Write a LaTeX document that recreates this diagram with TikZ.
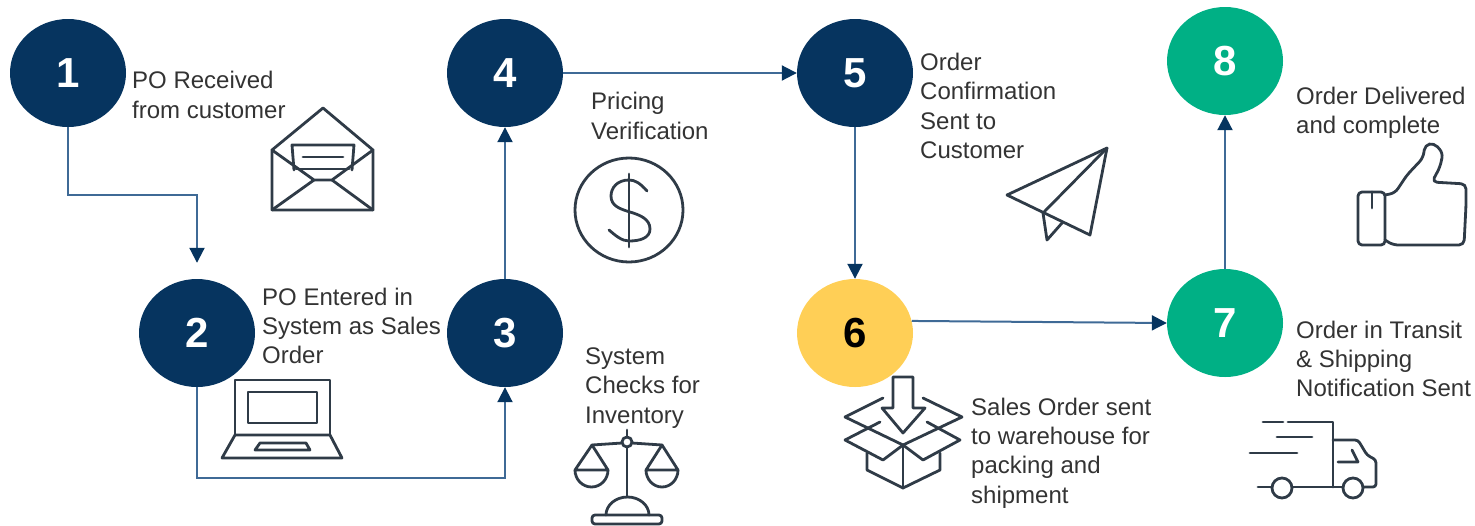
\documentclass[tikz,border=0pt]{standalone}
\usepackage{fontspec}
\setmainfont{Liberation Sans}
\usetikzlibrary{arrows.meta}
\usetikzlibrary{shapes.geometric}

\definecolor{navy}{HTML}{06345F}
\definecolor{teal}{HTML}{00B085}
\definecolor{amber}{HTML}{FFCF56}
\definecolor{flowline}{HTML}{3F6A96}
\definecolor{labelgray}{HTML}{333333}
\definecolor{icongray}{HTML}{2F3B47}

\tikzset{
    stepnode/.style={ellipse, fill=navy, text=white, minimum width=116pt, minimum height=108pt, inner sep=0pt, font=\fontsize{42}{42}\selectfont\bfseries},
    flow/.style={draw=flowline, line width=2pt, -{Triangle[length=15pt,width=15pt,color=navy]}},
    steplabel/.style={anchor=west, align=left, inner sep=0pt, text=labelgray, font=\fontsize{24}{29.4}\selectfont},
    iconline/.style={draw=icongray, line width=2.8pt, line join=round, line cap=round}
}

\begin{document}
\begin{tikzpicture}[x=1pt, y=-1pt]

\useasboundingbox (0,0) rectangle (1475,525);

% Navy steps
\foreach \i/\x/\y in {1/68/73, 2/197/333, 3/505/333, 4/505/73, 5/855/73} {
    \node[stepnode] (step\i) at (\x,\y) {\i};
}

% Yellow and green steps
\node[stepnode, fill=amber, text=black] (step6) at (855,333) {6};
\foreach \i/\y in {7/323, 8/61} {
    \node[stepnode, fill=teal] (step\i) at (1225,\y) {\i};
}

% Bends of the elbow connectors
\coordinate (bend12) at (132,195);
\coordinate (bend23) at (351,478);

% Connections
\draw[flow, shorten >=16pt] (step1) |- (bend12) -| (step2);
\draw[flow] (step2) |- (bend23) -| (step3);
\draw[flow] (step3) -- (step4);
\draw[flow] (step4) -- (step5);
\draw[flow] (step5) -- (step6);
\draw[flow] (step6.12) -- (step7.west);
\draw[flow] (step7) -- (step8);

% Labels
\node[steplabel] (label1) at (132,95) {PO Received\\from customer};
\node[steplabel] (label2) at (262,326) {PO Entered in\\System as Sales\\Order};
\node[steplabel] (label3) at (585,388) {System\\Checks for\\Inventory};
\node[steplabel] (label4) at (591,116) {Pricing\\Verification};
\node[steplabel] (label5) at (920,106) {Order\\Confirmation\\Sent to\\Customer};
\node[steplabel] (label6) at (971,453) {Sales Order sent\\to warehouse for\\packing and\\shipment};
\node[steplabel] (label7) at (1296,359) {Order in Transit\\\& Shipping\\Notification Sent};
\node[steplabel] (label8) at (1296,113) {Order Delivered\\and complete};

% Envelope
\draw[iconline] (272,150) -- (323,108) -- (373,150) -- (373,210) -- (272,210) -- cycle;
\draw[iconline] (272,150) -- (314,180) -- (332,180) -- (373,150);
\draw[iconline] (314,180) -- (272,210) (332,180) -- (373,210);
\draw[iconline] (294,170) -- (292,145) -- (354,145) -- (352,170);
\draw[iconline] (296,169) -- (349,169);
\draw[iconline] (303,157) -- (343,157);

% Laptop
\draw[iconline] (235,435) -- (235,380) -- (330,380) -- (330,435);
\draw[iconline] (248,392) rectangle (317,423);
\draw[iconline] (235,435) -- (330,435) -- (342,458) -- (222,458) -- cycle;
\draw[iconline] (260,443) -- (306,443) -- (310,450) -- (255,450) -- cycle;

% Dollar coin
\draw[iconline] (629,210) ellipse[x radius=54, y radius=52];
\draw[iconline] (629,174) -- (629,247);
\draw[iconline] (647,191) .. controls (640,183) and (635,180) .. (629,180) .. controls (617,180) and (611,188) .. (611,196) .. controls (611,206) and (620,209) .. (630,212) .. controls (640,215) and (650,219) .. (650,229) .. controls (650,238) and (640,241) .. (629,241) .. controls (622,241) and (616,236) .. (609,230);

% Scales
\draw[iconline] (627,430) -- (627,437);
\draw[iconline] (627,442) circle (5);
\draw[iconline] (627,447) -- (627,497);
\draw[iconline] (622,443) -- (592,445) (632,443) -- (662,445);
\draw[iconline] (575,470) -- (592,445) -- (608,470) -- cycle;
\draw[iconline] (646,470) -- (662,445) -- (678,470) -- cycle;
\draw[iconline] (575,470) arc[start angle=180, end angle=360, x radius=16.5, y radius=-17];
\draw[iconline] (646,470) arc[start angle=180, end angle=360, x radius=16, y radius=-17];
\draw[iconline] (606,515) arc[start angle=180, end angle=0, x radius=21.5, y radius=-18];
\draw[iconline, rounded corners=3pt] (592,515) rectangle (662,524);

% Paper plane
\draw[iconline] (1107,148) -- (1007,195) -- (1090,235) -- cycle;
\draw[iconline] (1107,148) -- (1043,213) -- (1047,240) -- (1062,223);

% Open box
\draw[iconline] (893,377) -- (913,377) -- (913,408) -- (925,408) -- (903,433) -- (882,408) -- (893,408) -- cycle;
\draw[iconline] (883,398) -- (845,417) -- (903,445) -- (962,417) -- (923,398);
\draw[iconline] (880,422) -- (845,440) -- (883,460) -- (903,445) -- (923,460) -- (960,440) -- (927,422);
\draw[iconline] (867,453) -- (867,470) -- (903,488) -- (940,470) -- (940,453);
\draw[iconline] (903,445) -- (903,488);

% Thumb
\draw[iconline, rounded corners=4pt] (1358,192) rectangle (1385,245);
\draw[iconline] (1372,192) -- (1372,208);
\draw[iconline, rounded corners=5pt] (1385,195) -- (1395,193) -- (1407,175) -- (1423,158) -- (1425,145) -- (1434,143) -- (1443,153) -- (1440,167) -- (1432,182) -- (1466,184) -- (1466,205) -- (1464,245) -- (1393,245) -- (1385,240);

% Truck
\draw[iconline] (1263,422) -- (1283,422);
\draw[iconline] (1288,422) -- (1333,422) -- (1333,487);
\draw[iconline] (1277,437) -- (1312,437);
\draw[iconline] (1250,453) -- (1297,453);
\draw[iconline, rounded corners=3pt] (1333,440) -- (1358,440) -- (1367,455) -- (1376,460) -- (1376,487) -- (1364,487);
\draw[iconline] (1352,450) -- (1358,462) -- (1338,462);
\draw[iconline] (1258,487) -- (1272,487) (1292,487) -- (1343,487);
\draw[iconline] (1282,488) circle (10);
\draw[iconline] (1353,488) circle (10);

\end{tikzpicture}
\end{document}
